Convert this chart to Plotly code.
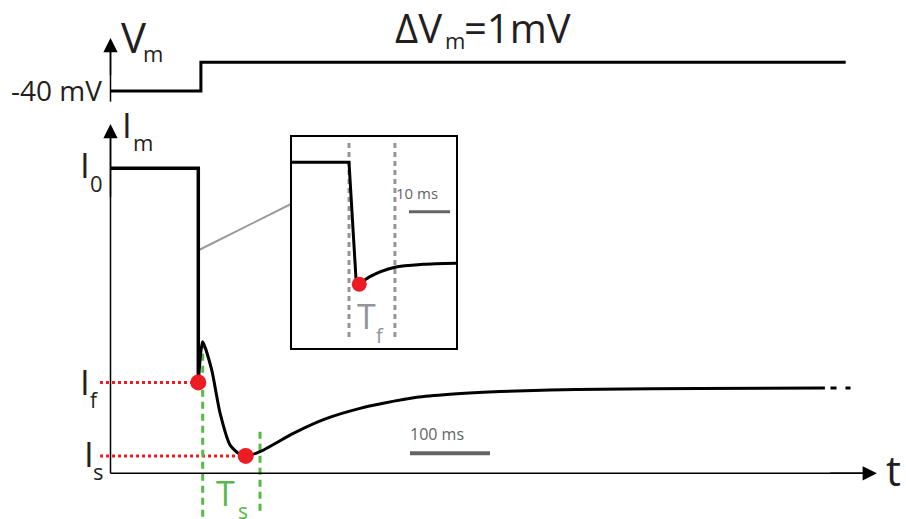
import plotly.graph_objects as go

# ---------------- data (time in ms, current normalised to I0, voltage in mV) ----------------
v_t = [0, 113, 113, 919]
v_mv = [-40, -40, -39, -39]

hold_t = [0, 109.75, 109.75]
hold_i = [1.0, 1.0, 0.298]

curve_t = [109.75, 115.25, 126.5, 136.9, 149.4, 159.75, 169, 186.9, 228.5, 270.25,
           311.9, 341, 382.75, 424.4, 466, 507.75, 549.4, 611.9, 736.9, 893]
curve_i = [0.298, 0.431, 0.339, 0.198, 0.093, 0.066, 0.057, 0.071, 0.131, 0.180,
           0.213, 0.2295, 0.249, 0.259, 0.2656, 0.270, 0.273, 0.2754, 0.278, 0.2797]
tail_t = [900, 925]
tail_i = [0.2797, 0.2797]

If_t, If_i = 109.75, 0.298
Is_t, Is_i = 169, 0.057
Ts_start, Ts_end = 115.25, 186.9
Ts_top = [0.431, 0.136]

ins_t = [-14, 0, 1.7, 2.5, 5.1, 11.2, 18.1, 26.1]
ins_i = [1.0, 1.0, 0.333, 0.298, 0.342, 0.396, 0.413, 0.419]
ins_If_t, ins_If_i = 2.5, 0.298
Tf_start, Tf_end = 0, 11.2

t_axis_end = 958
i_axis_top = 1.145
v_axis = [-40.37, -38.15]

# ---------------- layout calibration ----------------
W, H = 906, 519
X0, PX_PER_MS = 110.5, 0.8            # main time axis
Y0_I, PX_PER_I = 473.3, 305.0          # main current axis
Y_V40, PX_PER_MV = 91.0, 28.7          # voltage axis
INS_X0, INS_PX_MS = 349.0, 4.1         # inset
INS_Y1, INS_PX_I = 162.3, 173.8
BOX = (291.7, 137.3, 456.0, 348.3)

def tx(px):
    return (px - X0) / PX_PER_MS

def iy(py):
    return (Y0_I - py) / PX_PER_I

def vy(py):
    return -40 + (Y_V40 - py) / PX_PER_MV

def itx(px):
    return (px - INS_X0) / INS_PX_MS

def iiy(py):
    return 1 - (py - INS_Y1) / INS_PX_I

BLACK = "#000000"
TXT = "#231f20"
RED = "#ed1c24"
GREEN = "#57b947"
GRAY = "#939598"
DGRAY = "#636466"
FONT = "Open Sans"

fig = go.Figure()

def line(x, y, color, width, dash=None, shape="linear", xa="x", ya="y", smoothing=None):
    ld = dict(color=color, width=width, shape=shape)
    if dash:
        ld["dash"] = dash
    if smoothing is not None:
        ld["smoothing"] = smoothing
    fig.add_trace(go.Scatter(x=x, y=y, xaxis=xa, yaxis=ya, mode="lines", line=ld, hoverinfo="skip"))

# Vm trace
line(v_t, v_mv, BLACK, 3, ya="y2")

# connector to inset
line([tx(199), tx(291)], [iy(250), iy(204)], "#9a9a9a", 2)

# red dotted level lines
line([tx(100), If_t], [If_i, If_i], RED, 3, dash="3px,3px")
line([tx(100), Is_t], [Is_i, Is_i], RED, 3, dash="3px,3px")

# green dashed Ts lines
line([Ts_start, Ts_start], [Ts_top[0], iy(519)], GREEN, 3, dash="7px,5px")
line([Ts_end, Ts_end], [Ts_top[1], iy(512)], GREEN, 3, dash="7px,5px")

# current traces
line(hold_t, hold_i, BLACK, 3.5)
line(curve_t, curve_i, BLACK, 3, shape="spline", smoothing=0.6)
line(tail_t, tail_i, BLACK, 3, dash="6px,9px")

# scale bar 100 ms
line([tx(410), tx(410) + 100], [iy(453.3), iy(453.3)], DGRAY, 4)

# markers
fig.add_trace(go.Scatter(x=[If_t, Is_t], y=[If_i, Is_i], mode="markers",
                         marker=dict(color=RED, size=16, line=dict(width=0)), hoverinfo="skip"))

# axis lines
line([0, 0], [0, i_axis_top - 0.03], BLACK, 1.5)
line([0, t_axis_end - 10], [0, 0], BLACK, 1.5)
line([0, 0], [v_axis[0], v_axis[1] - 0.3], BLACK, 1.5, ya="y2")

# ---- inset ----
line([Tf_start, Tf_start], [iiy(143), iiy(337)], GRAY, 3, dash="5px,4px", xa="x3", ya="y3")
line([Tf_end, Tf_end], [iiy(143), iiy(341)], GRAY, 3, dash="5px,4px", xa="x3", ya="y3")
line(ins_t[:4], ins_i[:4], BLACK, 3, xa="x3", ya="y3")
line(ins_t[3:], ins_i[3:], BLACK, 3, shape="spline", smoothing=0.8, xa="x3", ya="y3")
line([itx(409), itx(409) + 10], [iiy(211.7), iiy(211.7)], DGRAY, 3, xa="x3", ya="y3")
fig.add_trace(go.Scatter(x=[ins_If_t], y=[ins_If_i], xaxis="x3", yaxis="y3", mode="markers",
                         marker=dict(color=RED, size=15), hoverinfo="skip"))

ann = []

def arrow(x, y, ax, ay, xref, yref):
    ann.append(dict(x=x, y=y, ax=ax, ay=ay, xref=xref, yref=yref, axref=xref, ayref=yref,
                    text="", showarrow=True, arrowhead=2, arrowsize=1.9, arrowwidth=1.5,
                    arrowcolor=BLACK))

arrow(0, i_axis_top, 0, 0.9, "x", "y")
arrow(t_axis_end, 0, t_axis_end - 60, 0, "x", "y")
arrow(0, v_axis[1], 0, -39.5, "x", "y2")

def label(text, px, py, size, color=TXT, xanchor="left"):
    ann.append(dict(x=px / W, y=1 - py / H, xref="paper", yref="paper", text=text,
                    showarrow=False, xanchor=xanchor, yanchor="middle",
                    font=dict(family=FONT, size=size, color=color)))

label("V", 119, 37, 42)
label("m", 141, 53, 22)
label("-40 mV", 104, 90, 28, xanchor="right")
label("ΔV", 393, 27, 40)
label("m", 443, 40, 22)
label("=1mV", 462, 27, 40)
label("I", 120, 124.5, 35)
label("m", 131, 142.5, 22)
label("I", 78, 164, 35)
label("0", 88, 183, 22)
label("I", 78, 381.5, 35)
label("f", 88, 400, 21)
label("I", 82, 453, 35)
label("s", 91, 470.5, 22)
label("t", 884, 469, 42)
label("T", 214, 492.5, 34, color=GREEN)
label("s", 236, 511, 21, color=GREEN)
label("T", 355, 315.5, 34, color=GRAY)
label("f", 374, 335, 20, color=GRAY)
label("10 ms", 394, 193, 15, color=DGRAY)
label("100 ms", 408, 434, 16, color=DGRAY)

fig.update_layout(
    width=W, height=H, margin=dict(l=0, r=0, t=0, b=0),
    paper_bgcolor="white", plot_bgcolor="rgba(0,0,0,0)", showlegend=False,
    font=dict(family=FONT, color=TXT),
    xaxis=dict(domain=[0, 1], range=[tx(0), tx(W)], visible=False, fixedrange=True),
    yaxis=dict(domain=[0, 1], range=[iy(H), iy(0)], visible=False, fixedrange=True),
    yaxis2=dict(domain=[0, 1], range=[vy(H), vy(0)], overlaying="y", visible=False, fixedrange=True),
    xaxis3=dict(domain=[BOX[0] / W, BOX[2] / W], range=[itx(BOX[0]), itx(BOX[2])], anchor="y3",
                showline=True, mirror=True, linecolor=BLACK, linewidth=1.5,
                showticklabels=False, ticks="", showgrid=False, zeroline=False, fixedrange=True),
    yaxis3=dict(domain=[1 - BOX[3] / H, 1 - BOX[1] / H], range=[iiy(BOX[3]), iiy(BOX[1])], anchor="x3",
                showline=True, mirror=True, linecolor=BLACK, linewidth=1.5,
                showticklabels=False, ticks="", showgrid=False, zeroline=False, fixedrange=True),
    annotations=ann,
)

fig.write_html("out.html", config={"displayModeBar": False},
               post_script="document.body.style.margin='0px';document.body.style.overflow='hidden';")
